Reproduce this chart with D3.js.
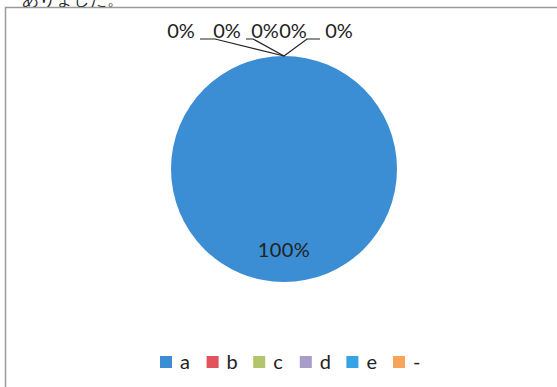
<!DOCTYPE html>
<html>
<head>
<meta charset="utf-8">
<script src="https://cdn.jsdelivr.net/npm/d3@7"></script>
<style>
  html, body { margin: 0; padding: 0; background: #ffffff; }
  svg { display: block; }
  text { font-family: Lato, "Noto Sans", sans-serif; fill: #222; }
</style>
</head>
<body>
<svg id="chart" width="557" height="387"></svg>
<script>
// Answer categories and their shares (%)
const categories = ["a", "b", "c", "d", "e", "-"];
const values = [100, 0, 0, 0, 0, 0];
const colors = ["#3b8dd4", "#e2535c", "#b3c56a", "#a89cc9", "#36a3e2", "#f5a45a"];

const W = 557, H = 387;
const svg = d3.select("#chart");

// tail of the caption line above the chart frame
svg.append("text")
  .attr("x", 22).attr("y", 5)
  .attr("font-family", "'Noto Sans CJK JP', sans-serif")
  .attr("font-size", 17)
  .attr("fill", "#111")
  .text("ありました。");

// chart frame
svg.append("rect")
  .attr("x", 5.5).attr("y", 7.5)
  .attr("width", W + 10).attr("height", H + 10)
  .attr("fill", "#fff")
  .attr("stroke", "#9a9a9a")
  .attr("stroke-width", 1.5);

const cx = 284, cy = 169, r = 113;
const g = svg.append("g").attr("transform", `translate(${cx},${cy})`);

const pie = d3.pie().sort(null).value(d => d.v);
const data = categories.map((c, i) => ({ c, v: values[i], color: colors[i] }));
const arcs = pie(data);
const total = d3.sum(values);
const fmt = v => Math.round(v / total * 100) + "%";

const arc = d3.arc().innerRadius(0).outerRadius(r);
g.selectAll("path.slice")
  .data(arcs.filter(d => d.value > 0))
  .join("path")
  .attr("class", "slice")
  .attr("d", arc)
  .attr("fill", d => d.data.color);

// inside label for the visible slice
const labelArc = d3.arc().innerRadius(r * 0.72).outerRadius(r * 0.72);
g.selectAll("text.inside")
  .data(arcs.filter(d => d.value > 0))
  .join("text")
  .attr("class", "inside")
  .attr("transform", d => `translate(${labelArc.centroid(d)})`)
  .attr("text-anchor", "middle")
  .attr("dy", "0.35em")
  .attr("font-size", 20)
  .attr("letter-spacing", 0.4)
  .text(d => fmt(d.value));

// zero slices: labels fanned out above the chart with leader lines
const zeroArcs = arcs.filter(d => d.value === 0);
const outerArc = d3.arc().innerRadius(r).outerRadius(r);
const labelSlots = [
  { x: -103, y: -131, line: [[-84, -130], [-69, -130]] },
  { x: -57,  y: -131, line: [[-38, -130], [-31, -130]] },
  { x: -19,  y: -131, line: null },
  { x: 9,    y: -131, line: null },
  { x: 55,   y: -131, line: [[36, -130], [23, -130]] }
];

zeroArcs.forEach((d, i) => {
  const s = labelSlots[i];
  const p = outerArc.centroid(d);
  if (s.line) {
    const pts = [p, s.line[1], s.line[0]];
    g.append("path")
      .attr("d", d3.line()(pts))
      .attr("fill", "none")
      .attr("stroke", "#222")
      .attr("stroke-width", 1.2);
  }
  g.append("text")
    .attr("x", s.x).attr("y", s.y)
    .attr("text-anchor", "middle")
    .attr("font-size", 20)
    .text(fmt(d.value));
});

// legend
const legend = svg.append("g").attr("transform", "translate(160,356)");
const item = legend.selectAll("g").data(data).join("g")
  .attr("transform", (d, i) => `translate(${i * 46.6},0)`);
item.append("rect")
  .attr("width", 12).attr("height", 12)
  .attr("fill", d => d.color);
item.append("text")
  .attr("x", 20).attr("y", 13)
  .attr("font-size", 20)
  .text(d => d.c);
</script>
</body>
</html>
